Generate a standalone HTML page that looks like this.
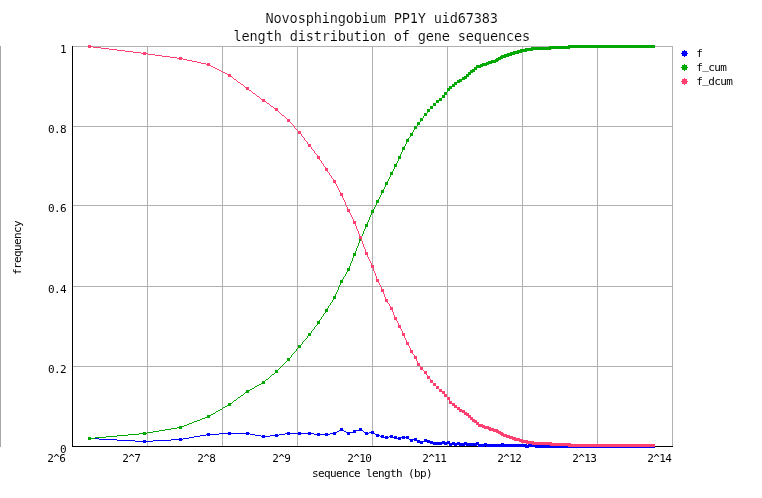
<!DOCTYPE html>
<html lang="en">
<head>
<meta charset="utf-8">
<title>Novosphingobium PP1Y uid67383 - length distribution of gene sequences</title>
<style>
html,body{margin:0;padding:0;background:#fff;}
body{width:762px;height:498px;overflow:hidden;}
svg{display:block;}
.t text{font-family:"DejaVu Sans Mono","Liberation Mono",monospace;fill:#000;white-space:pre;}
.big{font-size:13.6px;letter-spacing:-0.175px;stroke:#fff;stroke-width:0.12px;}
.sm{font-size:11px;letter-spacing:-0.62px;}
</style>
</head>
<body>
<svg width="762" height="498" viewBox="0 0 762 498">
<rect width="762" height="498" fill="#ffffff"/>
<rect x="0" y="46" width="1" height="401" fill="#a8a8a8" shape-rendering="crispEdges"/>
<path d="M147 46h1v400h-1zM222 46h1v400h-1zM297 46h1v400h-1zM372 46h1v400h-1zM447 46h1v400h-1zM522 46h1v400h-1zM597 46h1v400h-1zM672 46h1v400h-1zM72 46h601v1h-601zM72 126h601v1h-601zM72 205h601v1h-601zM72 286h601v1h-601zM72 366h601v1h-601z" fill="#b0b0b0" shape-rendering="crispEdges"/>
<path d="M72 46h1v401h-1z M72 446h601v1h-601z" fill="#000" shape-rendering="crispEdges"/>
<path d="M340 428h3v1h-3zM359 428h3v1h-3zM340 429h3v1h-3zM359 429h3v1h-3zM339 430h5v1h-5zM353 430h10v1h-10zM337 431h2v1h-2zM344 431h2v1h-2zM353 431h3v1h-3zM363 431h1v1h-1zM371 431h3v1h-3zM228 432h3v1h-3zM246 432h3v1h-3zM287 432h3v1h-3zM298 432h3v1h-3zM308 432h3v1h-3zM333 432h4v1h-4zM346 432h10v1h-10zM364 432h4v1h-4zM369 432h5v1h-5zM207 433h3v1h-3zM219 433h31v1h-31zM285 433h29v1h-29zM317 433h3v1h-3zM325 433h3v1h-3zM330 433h6v1h-6zM347 433h3v1h-3zM365 433h4v1h-4zM371 433h4v1h-4zM206 434h13v1h-13zM228 434h3v1h-3zM246 434h3v1h-3zM250 434h5v1h-5zM275 434h3v1h-3zM279 434h6v1h-6zM287 434h3v1h-3zM298 434h3v1h-3zM308 434h3v1h-3zM314 434h16v1h-16zM333 434h3v1h-3zM347 434h3v1h-3zM365 434h3v1h-3zM375 434h4v1h-4zM200 435h6v1h-6zM207 435h3v1h-3zM255 435h6v1h-6zM262 435h3v1h-3zM270 435h9v1h-9zM317 435h3v1h-3zM325 435h3v1h-3zM376 435h4v1h-4zM381 435h3v1h-3zM390 435h3v1h-3zM194 436h6v1h-6zM261 436h9v1h-9zM275 436h3v1h-3zM376 436h3v1h-3zM380 436h4v1h-4zM385 436h3v1h-3zM389 436h4v1h-4zM394 436h3v1h-3zM402 436h3v1h-3zM406 436h3v1h-3zM88 437h3v1h-3zM189 437h5v1h-5zM262 437h3v1h-3zM381 437h8v1h-8zM390 437h7v1h-7zM398 437h11v1h-11zM88 438h11v1h-11zM179 438h3v1h-3zM183 438h6v1h-6zM385 438h3v1h-3zM394 438h7v1h-7zM402 438h3v1h-3zM406 438h3v1h-3zM414 438h3v1h-3zM88 439h3v1h-3zM99 439h18v1h-18zM171 439h12v1h-12zM398 439h3v1h-3zM409 439h8v1h-8zM424 439h3v1h-3zM117 440h18v1h-18zM143 440h3v1h-3zM153 440h18v1h-18zM179 440h3v1h-3zM410 440h3v1h-3zM414 440h6v1h-6zM424 440h6v1h-6zM135 441h18v1h-18zM410 441h3v1h-3zM417 441h16v1h-16zM442 441h3v1h-3zM447 441h3v1h-3zM143 442h3v1h-3zM417 442h6v1h-6zM427 442h23v1h-23zM452 442h3v1h-3zM457 442h3v1h-3zM464 442h3v1h-3zM476 442h3v1h-3zM420 443h3v1h-3zM430 443h49v1h-49zM484 443h3v1h-3zM501 443h3v1h-3zM433 444h9v1h-9zM444 444h3v1h-3zM449 444h78v1h-78zM528 444h9v1h-9zM449 445h3v1h-3zM454 445h3v1h-3zM459 445h6v1h-6zM466 445h11v1h-11zM478 445h177v1h-177zM478 446h7v1h-7zM486 446h169v1h-169zM525 447h4v1h-4zM535 447h120v1h-120z" fill="#0000ff" shape-rendering="crispEdges"/>
<path d="M568 45h87v1h-87zM549 46h106v1h-106zM531 47h124v1h-124zM525 48h45v1h-45zM520 49h31v1h-31zM517 50h16v1h-16zM513 51h14v1h-14zM510 52h12v1h-12zM507 53h12v1h-12zM504 54h11v1h-11zM501 55h11v1h-11zM500 56h9v1h-9zM498 57h8v1h-8zM496 58h7v1h-7zM495 59h6v1h-6zM491 60h8v1h-8zM488 61h10v1h-10zM486 62h10v1h-10zM482 63h10v1h-10zM480 64h9v1h-9zM476 65h11v1h-11zM476 66h7v1h-7zM474 67h7v1h-7zM474 68h3v1h-3zM472 69h5v1h-5zM470 70h5v1h-5zM470 71h5v1h-5zM468 72h5v1h-5zM468 73h3v1h-3zM466 74h5v1h-5zM466 75h3v1h-3zM464 76h5v1h-5zM462 77h5v1h-5zM462 78h5v1h-5zM459 79h6v1h-6zM457 80h5v1h-5zM457 81h5v1h-5zM454 82h6v1h-6zM454 83h3v1h-3zM452 84h5v1h-5zM452 85h3v1h-3zM449 86h6v1h-6zM449 87h3v1h-3zM447 88h5v1h-5zM447 89h3v1h-3zM447 90h3v1h-3zM447 91h1v1h-1zM444 92h3v1h-3zM444 93h3v1h-3zM444 94h3v1h-3zM442 95h3v1h-3zM442 96h3v1h-3zM442 97h3v1h-3zM439 98h3v1h-3zM439 99h3v1h-3zM436 100h6v1h-6zM436 101h3v1h-3zM436 102h3v1h-3zM433 103h3v1h-3zM433 104h3v1h-3zM433 105h3v1h-3zM430 106h3v1h-3zM430 107h3v1h-3zM430 108h3v1h-3zM427 109h3v1h-3zM427 110h3v1h-3zM427 111h3v1h-3zM427 112h1v1h-1zM424 113h3v1h-3zM424 114h3v1h-3zM424 115h3v1h-3zM423 116h1v1h-1zM423 117h1v1h-1zM420 118h3v1h-3zM420 119h3v1h-3zM420 120h3v1h-3zM420 121h1v1h-1zM417 122h3v1h-3zM417 123h3v1h-3zM417 124h3v1h-3zM417 125h1v1h-1zM414 126h3v1h-3zM414 127h3v1h-3zM414 128h3v1h-3zM414 129h1v1h-1zM413 130h1v1h-1zM413 131h1v1h-1zM412 132h1v1h-1zM410 133h3v1h-3zM410 134h3v1h-3zM410 135h3v1h-3zM410 136h1v1h-1zM409 137h1v1h-1zM408 138h1v1h-1zM406 139h3v1h-3zM406 140h3v1h-3zM406 141h3v1h-3zM406 142h1v1h-1zM406 143h1v1h-1zM405 144h1v1h-1zM405 145h1v1h-1zM404 146h1v1h-1zM402 147h3v1h-3zM402 148h3v1h-3zM402 149h3v1h-3zM402 150h1v1h-1zM402 151h1v1h-1zM401 152h1v1h-1zM401 153h1v1h-1zM400 154h1v1h-1zM400 155h1v1h-1zM398 156h3v1h-3zM398 157h3v1h-3zM398 158h3v1h-3zM398 159h1v1h-1zM398 160h1v1h-1zM397 161h1v1h-1zM397 162h1v1h-1zM396 163h1v1h-1zM394 164h3v1h-3zM394 165h3v1h-3zM394 166h3v1h-3zM394 167h1v1h-1zM394 168h1v1h-1zM393 169h1v1h-1zM393 170h1v1h-1zM392 171h1v1h-1zM390 172h3v1h-3zM390 173h3v1h-3zM390 174h3v1h-3zM390 175h1v1h-1zM390 176h1v1h-1zM389 177h1v1h-1zM389 178h1v1h-1zM388 179h1v1h-1zM388 180h1v1h-1zM387 181h1v1h-1zM385 182h3v1h-3zM385 183h3v1h-3zM385 184h3v1h-3zM385 185h1v1h-1zM385 186h1v1h-1zM384 187h1v1h-1zM384 188h1v1h-1zM383 189h1v1h-1zM381 190h3v1h-3zM381 191h3v1h-3zM381 192h3v1h-3zM381 193h1v1h-1zM381 194h1v1h-1zM380 195h1v1h-1zM380 196h1v1h-1zM379 197h1v1h-1zM379 198h1v1h-1zM378 199h1v1h-1zM376 200h3v1h-3zM376 201h3v1h-3zM376 202h3v1h-3zM376 203h1v1h-1zM376 204h1v1h-1zM375 205h1v1h-1zM375 206h1v1h-1zM374 207h1v1h-1zM374 208h1v1h-1zM373 209h1v1h-1zM371 210h3v1h-3zM371 211h3v1h-3zM371 212h3v1h-3zM371 213h1v1h-1zM371 214h1v1h-1zM370 215h1v1h-1zM370 216h1v1h-1zM369 217h1v1h-1zM369 218h1v1h-1zM369 219h1v1h-1zM368 220h1v1h-1zM368 221h1v1h-1zM367 222h1v1h-1zM367 223h1v1h-1zM365 224h3v1h-3zM365 225h3v1h-3zM365 226h3v1h-3zM365 227h1v1h-1zM365 228h1v1h-1zM364 229h1v1h-1zM364 230h1v1h-1zM363 231h1v1h-1zM363 232h1v1h-1zM363 233h1v1h-1zM362 234h1v1h-1zM362 235h1v1h-1zM361 236h1v1h-1zM361 237h1v1h-1zM359 238h3v1h-3zM359 239h3v1h-3zM359 240h3v1h-3zM359 241h1v1h-1zM359 242h1v1h-1zM358 243h1v1h-1zM358 244h1v1h-1zM358 245h1v1h-1zM357 246h1v1h-1zM357 247h1v1h-1zM356 248h1v1h-1zM356 249h1v1h-1zM356 250h1v1h-1zM355 251h1v1h-1zM355 252h1v1h-1zM353 253h3v1h-3zM353 254h3v1h-3zM353 255h3v1h-3zM353 256h1v1h-1zM353 257h1v1h-1zM352 258h1v1h-1zM352 259h1v1h-1zM352 260h1v1h-1zM351 261h1v1h-1zM351 262h1v1h-1zM350 263h1v1h-1zM350 264h1v1h-1zM350 265h1v1h-1zM349 266h1v1h-1zM349 267h1v1h-1zM347 268h3v1h-3zM347 269h3v1h-3zM347 270h3v1h-3zM347 271h1v1h-1zM346 272h1v1h-1zM346 273h1v1h-1zM345 274h1v1h-1zM345 275h1v1h-1zM344 276h1v1h-1zM343 277h1v1h-1zM343 278h1v1h-1zM342 279h1v1h-1zM340 280h3v1h-3zM340 281h3v1h-3zM340 282h3v1h-3zM340 283h1v1h-1zM340 284h1v1h-1zM339 285h1v1h-1zM339 286h1v1h-1zM338 287h1v1h-1zM338 288h1v1h-1zM338 289h1v1h-1zM337 290h1v1h-1zM337 291h1v1h-1zM336 292h1v1h-1zM336 293h1v1h-1zM335 294h1v1h-1zM335 295h1v1h-1zM333 296h3v1h-3zM333 297h3v1h-3zM333 298h3v1h-3zM333 299h1v1h-1zM332 300h1v1h-1zM332 301h1v1h-1zM331 302h1v1h-1zM330 303h1v1h-1zM330 304h1v1h-1zM329 305h1v1h-1zM328 306h1v1h-1zM328 307h1v1h-1zM327 308h1v1h-1zM325 309h3v1h-3zM325 310h3v1h-3zM325 311h3v1h-3zM325 312h1v1h-1zM324 313h1v1h-1zM323 314h1v1h-1zM323 315h1v1h-1zM322 316h1v1h-1zM321 317h1v1h-1zM321 318h1v1h-1zM320 319h1v1h-1zM319 320h1v1h-1zM317 321h3v1h-3zM317 322h3v1h-3zM317 323h3v1h-3zM317 324h1v1h-1zM316 325h1v1h-1zM315 326h1v1h-1zM314 327h1v1h-1zM314 328h1v1h-1zM313 329h1v1h-1zM312 330h1v1h-1zM311 331h1v1h-1zM311 332h1v1h-1zM308 333h3v1h-3zM308 334h3v1h-3zM308 335h3v1h-3zM307 336h1v1h-1zM307 337h1v1h-1zM306 338h1v1h-1zM305 339h1v1h-1zM304 340h1v1h-1zM303 341h1v1h-1zM302 342h1v1h-1zM302 343h1v1h-1zM301 344h1v1h-1zM298 345h3v1h-3zM298 346h3v1h-3zM298 347h3v1h-3zM297 348h1v1h-1zM296 349h1v1h-1zM296 350h1v1h-1zM295 351h1v1h-1zM294 352h1v1h-1zM293 353h1v1h-1zM292 354h1v1h-1zM291 355h1v1h-1zM291 356h1v1h-1zM290 357h1v1h-1zM287 358h3v1h-3zM287 359h3v1h-3zM287 360h3v1h-3zM286 361h1v1h-1zM285 362h1v1h-1zM284 363h1v1h-1zM283 364h1v1h-1zM282 365h1v1h-1zM281 366h1v1h-1zM280 367h1v1h-1zM279 368h1v1h-1zM278 369h1v1h-1zM275 370h3v1h-3zM275 371h3v1h-3zM275 372h3v1h-3zM274 373h1v1h-1zM272 374h2v1h-2zM271 375h1v1h-1zM270 376h1v1h-1zM269 377h1v1h-1zM268 378h1v1h-1zM266 379h2v1h-2zM265 380h1v1h-1zM262 381h3v1h-3zM262 382h3v1h-3zM261 383h4v1h-4zM259 384h2v1h-2zM257 385h2v1h-2zM255 386h2v1h-2zM254 387h1v1h-1zM252 388h2v1h-2zM250 389h2v1h-2zM246 390h4v1h-4zM246 391h3v1h-3zM245 392h4v1h-4zM244 393h1v1h-1zM243 394h1v1h-1zM241 395h2v1h-2zM240 396h1v1h-1zM238 397h2v1h-2zM237 398h1v1h-1zM236 399h1v1h-1zM234 400h2v1h-2zM233 401h1v1h-1zM232 402h1v1h-1zM228 403h4v1h-4zM228 404h3v1h-3zM227 405h4v1h-4zM225 406h2v1h-2zM223 407h2v1h-2zM222 408h1v1h-1zM220 409h2v1h-2zM218 410h2v1h-2zM216 411h2v1h-2zM215 412h1v1h-1zM213 413h2v1h-2zM211 414h2v1h-2zM207 415h4v1h-4zM207 416h3v1h-3zM205 417h5v1h-5zM202 418h3v1h-3zM200 419h2v1h-2zM197 420h3v1h-3zM194 421h3v1h-3zM192 422h2v1h-2zM189 423h3v1h-3zM187 424h2v1h-2zM184 425h3v1h-3zM179 426h5v1h-5zM177 427h5v1h-5zM171 428h6v1h-6zM179 428h3v1h-3zM165 429h6v1h-6zM159 430h6v1h-6zM153 431h6v1h-6zM143 432h3v1h-3zM147 432h6v1h-6zM139 433h8v1h-8zM128 434h11v1h-11zM143 434h3v1h-3zM117 435h11v1h-11zM106 436h11v1h-11zM88 437h3v1h-3zM95 437h11v1h-11zM88 438h7v1h-7zM88 439h3v1h-3z" fill="#00a800" shape-rendering="crispEdges"/>
<path d="M88 45h3v1h-3zM88 46h5v1h-5zM88 47h3v1h-3zM93 47h8v1h-8zM101 48h8v1h-8zM109 49h8v1h-8zM117 50h8v1h-8zM125 51h8v1h-8zM133 52h8v1h-8zM143 52h3v1h-3zM141 53h7v1h-7zM143 54h3v1h-3zM148 54h7v1h-7zM155 55h7v1h-7zM162 56h8v1h-8zM170 57h7v1h-7zM179 57h3v1h-3zM177 58h6v1h-6zM179 59h3v1h-3zM183 59h4v1h-4zM187 60h5v1h-5zM192 61h5v1h-5zM197 62h4v1h-4zM201 63h5v1h-5zM207 63h3v1h-3zM206 64h4v1h-4zM207 65h4v1h-4zM211 66h2v1h-2zM213 67h2v1h-2zM215 68h2v1h-2zM217 69h2v1h-2zM219 70h2v1h-2zM221 71h2v1h-2zM223 72h2v1h-2zM225 73h2v1h-2zM227 74h4v1h-4zM228 75h3v1h-3zM228 76h4v1h-4zM232 77h1v1h-1zM233 78h1v1h-1zM234 79h2v1h-2zM236 80h1v1h-1zM237 81h1v1h-1zM238 82h2v1h-2zM240 83h1v1h-1zM241 84h2v1h-2zM243 85h1v1h-1zM244 86h1v1h-1zM245 87h4v1h-4zM246 88h3v1h-3zM246 89h3v1h-3zM249 90h2v1h-2zM251 91h1v1h-1zM252 92h1v1h-1zM253 93h2v1h-2zM255 94h1v1h-1zM256 95h1v1h-1zM257 96h2v1h-2zM259 97h1v1h-1zM260 98h1v1h-1zM261 99h4v1h-4zM262 100h3v1h-3zM262 101h4v1h-4zM266 102h1v1h-1zM267 103h2v1h-2zM269 104h1v1h-1zM270 105h1v1h-1zM271 106h2v1h-2zM273 107h1v1h-1zM274 108h4v1h-4zM275 109h3v1h-3zM275 110h3v1h-3zM278 111h1v1h-1zM279 112h1v1h-1zM280 113h1v1h-1zM281 114h1v1h-1zM282 115h2v1h-2zM284 116h1v1h-1zM285 117h1v1h-1zM286 118h1v1h-1zM287 119h3v1h-3zM287 120h3v1h-3zM287 121h3v1h-3zM290 122h1v1h-1zM291 123h1v1h-1zM292 124h1v1h-1zM293 125h1v1h-1zM294 126h1v1h-1zM294 127h1v1h-1zM295 128h1v1h-1zM296 129h1v1h-1zM297 130h1v1h-1zM298 131h3v1h-3zM298 132h3v1h-3zM298 133h3v1h-3zM301 134h1v1h-1zM301 135h1v1h-1zM302 136h1v1h-1zM303 137h1v1h-1zM304 138h1v1h-1zM304 139h1v1h-1zM305 140h1v1h-1zM306 141h1v1h-1zM307 142h1v1h-1zM307 143h1v1h-1zM308 144h3v1h-3zM308 145h3v1h-3zM308 146h3v1h-3zM311 147h1v1h-1zM311 148h1v1h-1zM312 149h1v1h-1zM313 150h1v1h-1zM314 151h1v1h-1zM314 152h1v1h-1zM315 153h1v1h-1zM316 154h1v1h-1zM317 155h1v1h-1zM317 156h3v1h-3zM317 157h3v1h-3zM317 158h3v1h-3zM319 159h1v1h-1zM320 160h1v1h-1zM321 161h1v1h-1zM321 162h1v1h-1zM322 163h1v1h-1zM323 164h1v1h-1zM323 165h1v1h-1zM324 166h1v1h-1zM325 167h1v1h-1zM325 168h3v1h-3zM325 169h3v1h-3zM325 170h3v1h-3zM327 171h1v1h-1zM328 172h1v1h-1zM329 173h1v1h-1zM329 174h1v1h-1zM330 175h1v1h-1zM331 176h1v1h-1zM331 177h1v1h-1zM332 178h1v1h-1zM333 179h1v1h-1zM333 180h3v1h-3zM333 181h3v1h-3zM333 182h3v1h-3zM335 183h1v1h-1zM336 184h1v1h-1zM336 185h1v1h-1zM337 186h1v1h-1zM337 187h1v1h-1zM338 188h1v1h-1zM338 189h1v1h-1zM339 190h1v1h-1zM339 191h1v1h-1zM340 192h1v1h-1zM340 193h3v1h-3zM340 194h3v1h-3zM340 195h3v1h-3zM342 196h1v1h-1zM342 197h1v1h-1zM343 198h1v1h-1zM343 199h1v1h-1zM344 200h1v1h-1zM344 201h1v1h-1zM345 202h1v1h-1zM345 203h1v1h-1zM345 204h1v1h-1zM346 205h1v1h-1zM346 206h1v1h-1zM347 207h1v1h-1zM347 208h1v1h-1zM347 209h3v1h-3zM347 210h3v1h-3zM347 211h3v1h-3zM349 212h1v1h-1zM350 213h1v1h-1zM350 214h1v1h-1zM351 215h1v1h-1zM351 216h1v1h-1zM352 217h1v1h-1zM352 218h1v1h-1zM353 219h1v1h-1zM353 220h1v1h-1zM353 221h3v1h-3zM353 222h3v1h-3zM353 223h3v1h-3zM355 224h1v1h-1zM355 225h1v1h-1zM356 226h1v1h-1zM356 227h1v1h-1zM356 228h1v1h-1zM357 229h1v1h-1zM357 230h1v1h-1zM358 231h1v1h-1zM358 232h1v1h-1zM358 233h1v1h-1zM359 234h1v1h-1zM359 235h1v1h-1zM359 236h3v1h-3zM359 237h3v1h-3zM359 238h3v1h-3zM361 239h1v1h-1zM361 240h1v1h-1zM362 241h1v1h-1zM362 242h1v1h-1zM362 243h1v1h-1zM363 244h1v1h-1zM363 245h1v1h-1zM363 246h1v1h-1zM364 247h1v1h-1zM364 248h1v1h-1zM365 249h1v1h-1zM365 250h1v1h-1zM365 251h1v1h-1zM365 252h3v1h-3zM365 253h3v1h-3zM365 254h3v1h-3zM367 255h1v1h-1zM367 256h1v1h-1zM368 257h1v1h-1zM368 258h1v1h-1zM369 259h1v1h-1zM369 260h1v1h-1zM370 261h1v1h-1zM370 262h1v1h-1zM371 263h1v1h-1zM371 264h1v1h-1zM371 265h3v1h-3zM371 266h3v1h-3zM371 267h3v1h-3zM373 268h1v1h-1zM373 269h1v1h-1zM373 270h1v1h-1zM374 271h1v1h-1zM374 272h1v1h-1zM375 273h1v1h-1zM375 274h1v1h-1zM375 275h1v1h-1zM376 276h1v1h-1zM376 277h1v1h-1zM376 278h1v1h-1zM376 279h3v1h-3zM376 280h3v1h-3zM376 281h3v1h-3zM378 282h1v1h-1zM379 283h1v1h-1zM379 284h1v1h-1zM380 285h1v1h-1zM380 286h1v1h-1zM381 287h1v1h-1zM381 288h1v1h-1zM381 289h3v1h-3zM381 290h3v1h-3zM381 291h3v1h-3zM383 292h1v1h-1zM383 293h1v1h-1zM384 294h1v1h-1zM384 295h1v1h-1zM384 296h1v1h-1zM385 297h1v1h-1zM385 298h1v1h-1zM385 299h3v1h-3zM385 300h3v1h-3zM385 301h3v1h-3zM387 302h1v1h-1zM388 303h1v1h-1zM389 304h1v1h-1zM389 305h1v1h-1zM390 306h1v1h-1zM390 307h3v1h-3zM390 308h3v1h-3zM390 309h3v1h-3zM392 310h1v1h-1zM392 311h1v1h-1zM393 312h1v1h-1zM393 313h1v1h-1zM393 314h1v1h-1zM394 315h1v1h-1zM394 316h1v1h-1zM394 317h3v1h-3zM394 318h3v1h-3zM394 319h3v1h-3zM396 320h1v1h-1zM397 321h1v1h-1zM397 322h1v1h-1zM398 323h1v1h-1zM398 324h1v1h-1zM398 325h3v1h-3zM398 326h3v1h-3zM398 327h3v1h-3zM400 328h1v1h-1zM401 329h1v1h-1zM401 330h1v1h-1zM402 331h1v1h-1zM402 332h1v1h-1zM402 333h3v1h-3zM402 334h3v1h-3zM402 335h3v1h-3zM404 336h1v1h-1zM404 337h1v1h-1zM405 338h1v1h-1zM405 339h1v1h-1zM406 340h1v1h-1zM406 341h1v1h-1zM406 342h3v1h-3zM406 343h3v1h-3zM406 344h3v1h-3zM408 345h1v1h-1zM409 346h1v1h-1zM409 347h1v1h-1zM410 348h1v1h-1zM410 349h1v1h-1zM410 350h3v1h-3zM410 351h3v1h-3zM410 352h3v1h-3zM412 353h1v1h-1zM413 354h1v1h-1zM414 355h1v1h-1zM414 356h3v1h-3zM414 357h3v1h-3zM414 358h3v1h-3zM416 359h1v1h-1zM416 360h1v1h-1zM417 361h1v1h-1zM417 362h1v1h-1zM417 363h3v1h-3zM417 364h3v1h-3zM417 365h3v1h-3zM420 366h1v1h-1zM420 367h3v1h-3zM420 368h3v1h-3zM420 369h3v1h-3zM423 370h1v1h-1zM424 371h3v1h-3zM424 372h3v1h-3zM424 373h3v1h-3zM426 374h1v1h-1zM427 375h1v1h-1zM427 376h3v1h-3zM427 377h3v1h-3zM427 378h3v1h-3zM430 379h1v1h-1zM430 380h3v1h-3zM430 381h3v1h-3zM430 382h3v1h-3zM433 383h3v1h-3zM433 384h3v1h-3zM433 385h3v1h-3zM436 386h3v1h-3zM436 387h3v1h-3zM436 388h3v1h-3zM439 389h3v1h-3zM439 390h3v1h-3zM439 391h6v1h-6zM442 392h3v1h-3zM442 393h3v1h-3zM444 394h3v1h-3zM444 395h3v1h-3zM444 396h3v1h-3zM447 397h3v1h-3zM447 398h3v1h-3zM447 399h3v1h-3zM449 400h1v1h-1zM449 401h3v1h-3zM449 402h3v1h-3zM449 403h6v1h-6zM452 404h3v1h-3zM452 405h5v1h-5zM454 406h3v1h-3zM454 407h6v1h-6zM457 408h3v1h-3zM457 409h5v1h-5zM459 410h6v1h-6zM459 411h6v1h-6zM462 412h5v1h-5zM464 413h5v1h-5zM464 414h5v1h-5zM466 415h5v1h-5zM468 416h3v1h-3zM468 417h5v1h-5zM470 418h3v1h-3zM470 419h5v1h-5zM472 420h5v1h-5zM472 421h5v1h-5zM474 422h5v1h-5zM476 423h3v1h-3zM476 424h7v1h-7zM478 425h7v1h-7zM478 426h11v1h-11zM482 427h9v1h-9zM484 428h10v1h-10zM488 429h10v1h-10zM489 430h10v1h-10zM493 431h8v1h-8zM496 432h7v1h-7zM498 433h6v1h-6zM500 434h7v1h-7zM501 435h9v1h-9zM503 436h10v1h-10zM506 437h10v1h-10zM509 438h11v1h-11zM512 439h11v1h-11zM514 440h14v1h-14zM519 441h15v1h-15zM521 442h31v1h-31zM526 443h45v1h-45zM532 444h123v1h-123zM550 445h105v1h-105zM568 446h87v1h-87z" fill="#ff4070" shape-rendering="crispEdges"/>
<path d="M682 51h5v5h-5z M684 50h1v7h-1z M681 53h7v1h-7z" fill="#0000ff" shape-rendering="crispEdges"/>
<path d="M682 65h5v5h-5z M684 64h1v7h-1z M681 67h7v1h-7z" fill="#00a800" shape-rendering="crispEdges"/>
<path d="M682 79h5v5h-5z M684 78h1v7h-1z M681 81h7v1h-7z" fill="#ff4070" shape-rendering="crispEdges"/>
<g class="t" opacity="0.999">
<text class="big" x="265.6" y="23">Novosphingobium PP1Y uid67383</text>
<text class="big" x="233.6" y="41">length distribution of gene sequences</text>
<text class="sm" x="60" y="53">1</text>
<text class="sm" x="48" y="133">0.8</text>
<text class="sm" x="48" y="212">0.6</text>
<text class="sm" x="48" y="293">0.4</text>
<text class="sm" x="48" y="373">0.2</text>
<text class="sm" x="60" y="453">0</text>
<text class="sm" x="47.3" y="462">2^6</text>
<text class="sm" x="122.3" y="462">2^7</text>
<text class="sm" x="197.3" y="462">2^8</text>
<text class="sm" x="272.3" y="462">2^9</text>
<text class="sm" x="347.3" y="462">2^10</text>
<text class="sm" x="422.3" y="462">2^11</text>
<text class="sm" x="497.3" y="462">2^12</text>
<text class="sm" x="572.3" y="462">2^13</text>
<text class="sm" x="647.3" y="462">2^14</text>
<text class="sm" x="312" y="477">sequence length (bp)</text>
<text class="sm" x="696.3" y="57">f</text>
<text class="sm" x="696.3" y="71">f<tspan dy="-2">_</tspan><tspan dy="2">cum</tspan></text>
<text class="sm" x="696.3" y="85">f<tspan dy="-2">_</tspan><tspan dy="2">dcum</tspan></text>
<text class="sm" transform="translate(21 275) rotate(-90)" x="0" y="0">frequency</text>
</g>
</svg>
</body>
</html>
